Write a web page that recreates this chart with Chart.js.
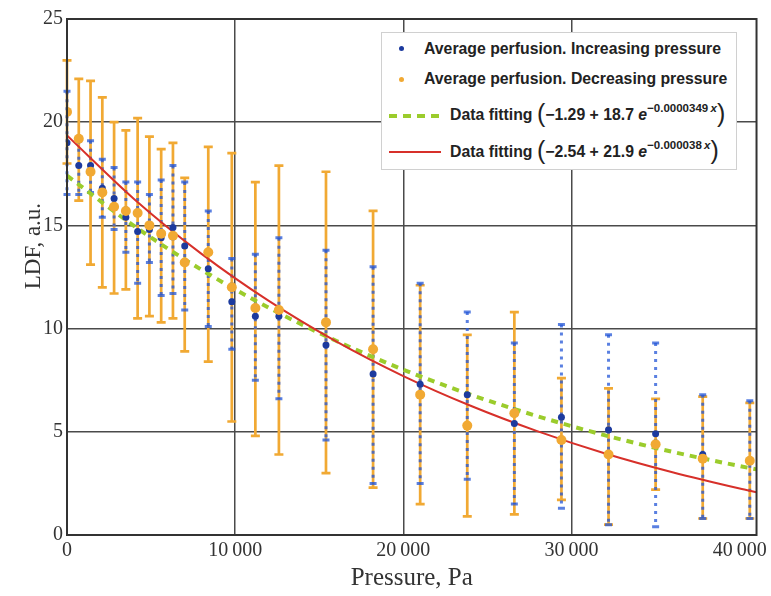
<!DOCTYPE html>
<html>
<head>
<meta charset="utf-8">
<script src="https://cdn.jsdelivr.net/npm/chart.js@4.4.0/dist/chart.umd.min.js"></script>
<style>
  html, body { margin: 0; padding: 0; background: #fff; }
  #wrap { position: relative; width: 771px; height: 596px; }
  #legend {
    position: absolute; left: 381px; top: 32px; width: 354px; height: 136px;
    border: 1px solid #d0d0d0; background: #fff;
    font-family: 'Liberation Sans', Arial, sans-serif; font-weight: bold;
    font-size: 15.8px; color: #222;
  }
  #legend .txt { position: absolute; white-space: nowrap; line-height: 18px; }
  #legend .mk { position: absolute; }
  #legend .paren { font-size: 25px; font-weight: normal; line-height: 0; position: relative; top: 2px; }
  #legend sup { font-size: 11.5px; line-height: 0; position: relative; top: -2px; }
</style>
</head>
<body>
<div id="wrap">
  <canvas id="ldfChart" width="771" height="596"></canvas>
  <div id="legend"></div>
</div>
<script>
// measurement pressures, Pa
const pressure = [0, 700, 1400, 2100, 2800, 3500, 4200, 4900, 5600, 6300, 7000, 8400, 9800,
  11200, 12600, 15400, 18200, 21000, 23800, 26600, 29400, 32200, 35000, 37800, 40600];

// average perfusion, increasing pressure (mean, lower, upper)
const incMean = [19.0, 17.9, 17.9, 16.8, 16.3, 15.4, 14.7, 14.8, 14.4, 14.9, 14.0, 12.9, 11.3,
  10.6, 10.6, 9.2, 7.8, 7.3, 6.8, 5.4, 5.7, 5.1, 4.9, 3.9, 3.6];
const incLow = [16.5, 16.5, 16.6, 15.4, 14.8, 13.7, 12.2, 13.2, 11.6, 11.7, 10.9, 10.1, 9.0,
  7.5, 6.6, 4.6, 2.5, 2.5, 2.7, 1.5, 1.3, 0.5, 0.4, 0.8, 0.8];
const incHigh = [21.5, 19.1, 19.1, 18.2, 17.8, 17.1, 17.1, 16.5, 17.2, 17.9, 17.1, 15.7, 13.4,
  13.6, 14.4, 13.8, 13.0, 12.2, 10.8, 9.3, 10.2, 9.7, 9.3, 6.8, 6.5];

// average perfusion, decreasing pressure (mean, lower, upper)
const decMean = [20.5, 19.2, 17.6, 16.6, 15.9, 15.7, 15.6, 15.0, 14.6, 14.5, 13.2, 13.7, 12.0,
  11.0, 10.9, 10.3, 9.0, 6.8, 5.3, 5.9, 4.6, 3.9, 4.4, 3.7, 3.6];
const decLow = [18.0, 16.2, 13.1, 12.0, 11.7, 11.9, 10.5, 10.6, 10.3, 10.5, 8.9, 8.4, 5.5,
  4.8, 3.9, 3.0, 2.3, 1.5, 0.9, 1.0, 1.7, 0.5, 2.2, 0.8, 0.8];
const decHigh = [23.0, 22.1, 22.0, 21.2, 20.0, 19.6, 20.2, 19.3, 18.7, 19.0, 17.3, 18.8, 18.5,
  17.1, 17.9, 17.6, 15.7, 12.1, 9.7, 10.8, 7.6, 7.1, 6.6, 6.7, 6.4];

// fitted curves
const fitX = [0, 4000, 8000, 12000, 16000, 20000, 24000, 28000, 32000, 36000, 40000, 41000];
const fitGreen = [17.41, 14.97, 12.85, 11.01, 9.41, 8.01, 6.80, 5.75, 4.83, 4.03, 3.34, 3.18];
const fitRed = [19.36, 16.27, 13.62, 11.34, 9.38, 7.70, 6.26, 5.02, 3.95, 3.04, 2.25, 2.07];

const xTicks = [0, 10000, 20000, 30000, 40000];
const xTickLabels = ['0', '10\u2009000', '20\u2009000', '30\u2009000', '40\u2009000'];
const yTicks = [0, 5, 10, 15, 20, 25];
const yTitle = 'LDF, a.u.';

const ORANGE = '#f1a933';
const BLUE = 'rgba(35, 85, 215, 0.75)';
const BLUE_DOT = '#1c3a9e';
const GREEN = '#9bcc2c';
const RED = '#d7302a';
const SERIF = "'Liberation Serif', 'Times New Roman', serif";

Chart.defaults.font.family = SERIF;

const legendItems = [
  { kind: 'dot', color: BLUE_DOT, label: 'Average perfusion. Increasing pressure' },
  { kind: 'dot', color: ORANGE, label: 'Average perfusion. Decreasing pressure' },
  { kind: 'dash', color: GREEN, label: 'Data fitting', fit: ['\u22121.29', '18.7', '\u22120.0000349'] },
  { kind: 'line', color: RED, label: 'Data fitting', fit: ['\u22122.54', '21.9', '\u22120.000038'] },
];

function buildLegend() {
  const box = document.getElementById('legend');
  const rowY = [15.7, 46.3, 82.3, 119];
  legendItems.forEach((item, i) => {
    const cy = rowY[i];
    const mk = document.createElement('div');
    mk.className = 'mk';
    const txt = document.createElement('div');
    txt.className = 'txt';
    txt.style.top = (cy - 9) + 'px';
    if (item.kind === 'dot') {
      Object.assign(mk.style, { left: '17px', top: (cy - 2.5) + 'px', width: '5px', height: '5px',
        borderRadius: '50%', background: item.color });
      txt.style.left = '42px';
      txt.textContent = item.label;
    } else {
      Object.assign(mk.style, { left: '7px', top: (cy - 1.5) + 'px', width: '52px', height: item.kind === 'dash' ? '4px' : '2px' });
      mk.style.background = item.kind === 'dash'
        ? `repeating-linear-gradient(90deg, ${item.color} 0 8px, transparent 8px 14px)`
        : item.color;
      txt.style.left = '68px';
      const [a, b, k] = item.fit;
      txt.innerHTML = `${item.label} <span class="paren">(</span>${a} + ${b} <i>e</i><sup>${k}\u2009<i>x</i></sup><span class="paren">)</span>`;
    }
    box.appendChild(mk);
    box.appendChild(txt);
  });
}

const errorBars = {
  id: 'errorBars',
  beforeDatasetsDraw(chart) {
    const { ctx, scales: { x, y } } = chart;
    ctx.save();
    // decreasing pressure: solid orange bars with caps
    ctx.strokeStyle = ORANGE;
    ctx.lineWidth = 2.7;
    pressure.forEach((p, i) => {
      const px = x.getPixelForValue(p);
      const top = y.getPixelForValue(decHigh[i]);
      const bot = y.getPixelForValue(decLow[i]);
      ctx.beginPath();
      ctx.moveTo(px, top); ctx.lineTo(px, bot);
      ctx.moveTo(px - 4.5, top); ctx.lineTo(px + 4.5, top);
      ctx.moveTo(px - 4.5, bot); ctx.lineTo(px + 4.5, bot);
      ctx.stroke();
    });
    // increasing pressure: dotted blue bars
    ctx.strokeStyle = BLUE;
    pressure.forEach((p, i) => {
      const px = x.getPixelForValue(p);
      const top = y.getPixelForValue(incHigh[i]);
      const bot = y.getPixelForValue(incLow[i]);
      ctx.lineWidth = 3;
      ctx.setLineDash([3, 5]);
      ctx.beginPath();
      ctx.moveTo(px, top); ctx.lineTo(px, bot);
      ctx.stroke();
      ctx.setLineDash([]);
      ctx.beginPath();
      ctx.moveTo(px - 3.5, top); ctx.lineTo(px + 3.5, top);
      ctx.moveTo(px - 3.5, bot); ctx.lineTo(px + 3.5, bot);
      ctx.stroke();
    });
    ctx.restore();
  },
  afterDatasetsDraw(chart) {
    const { ctx, chartArea: a } = chart;
    ctx.save();
    ctx.strokeStyle = '#333';
    ctx.lineWidth = 2;
    ctx.strokeRect(a.left, a.top, a.right - a.left, a.bottom - a.top);
    // y axis title sits a bit above the middle of the axis in the original
    ctx.translate(34, a.top + (a.bottom - a.top) * 0.44);
    ctx.rotate(-Math.PI / 2);
    ctx.fillStyle = '#333';
    ctx.font = `23px ${SERIF}`;
    ctx.textAlign = 'center';
    ctx.textBaseline = 'middle';
    ctx.fillText(yTitle, 0, 0);
    ctx.restore();
  }
};

const ctx = document.getElementById('ldfChart').getContext('2d');
new Chart(ctx, {
  type: 'scatter',
  data: {
    datasets: [
      {
        label: 'Average perfusion. Decreasing pressure',
        data: pressure.map((p, i) => ({ x: p, y: decMean[i] })),
        backgroundColor: ORANGE,
        borderWidth: 0,
        pointRadius: 5,
        order: 0,
      },
      {
        label: 'Average perfusion. Increasing pressure',
        data: pressure.map((p, i) => ({ x: p, y: incMean[i] })),
        backgroundColor: BLUE_DOT,
        borderWidth: 0,
        pointRadius: 3.5,
        order: 1,
      },
      {
        type: 'line',
        label: 'Data fitting (red)',
        data: fitX.map((p, i) => ({ x: p, y: fitRed[i] })),
        borderColor: RED,
        borderWidth: 2,
        pointRadius: 0,
        cubicInterpolationMode: 'monotone',
        order: 2,
      },
      {
        type: 'line',
        label: 'Data fitting (green)',
        data: fitX.map((p, i) => ({ x: p, y: fitGreen[i] })),
        borderColor: GREEN,
        borderWidth: 4,
        borderDash: [7, 6],
        pointRadius: 0,
        cubicInterpolationMode: 'monotone',
        order: 3,
      },
    ],
  },
  options: {
    responsive: false,
    animation: false,
    layout: { padding: { left: 0, top: 19, right: 12, bottom: 0 } },
    scales: {
      x: {
        type: 'linear',
        min: 0,
        max: 41000,
        afterBuildTicks: (scale) => { scale.ticks = xTicks.map(v => ({ value: v })); },
        afterFit: (scale) => { scale.height = 61; },
        ticks: {
          autoSkip: false,
          maxRotation: 0,
          padding: 4,
          color: '#333',
          font: { family: SERIF, size: 20 },
          callback: (v) => xTickLabels[xTicks.indexOf(v)],
        },
        grid: {
          drawTicks: false,
          lineWidth: 1.5,
          color: (c) => (c.tick && c.tick.value > 0 && c.tick.value < 40000 ? '#4a4a4a' : 'rgba(0,0,0,0)'),
        },
        border: { display: false },
        title: {
          display: true,
          text: 'Pressure, Pa',
          color: '#333',
          font: { family: SERIF, size: 25 },
          padding: { top: 0, bottom: 3 },
        },
      },
      y: {
        min: 0,
        max: 25,
        afterBuildTicks: (scale) => { scale.ticks = yTicks.map(v => ({ value: v })); },
        afterFit: (scale) => { scale.width = 67; },
        ticks: {
          padding: 4,
          color: '#333',
          font: { family: SERIF, size: 20 },
        },
        grid: {
          drawTicks: false,
          lineWidth: 1.5,
          color: (c) => (c.tick && c.tick.value > 0 && c.tick.value < 25 ? '#4a4a4a' : 'rgba(0,0,0,0)'),
        },
        border: { display: false },
        title: { display: false },
      },
    },
    plugins: {
      legend: { display: false },
      tooltip: { enabled: false },
    },
  },
  plugins: [errorBars],
});

buildLegend();
</script>
</body>
</html>
